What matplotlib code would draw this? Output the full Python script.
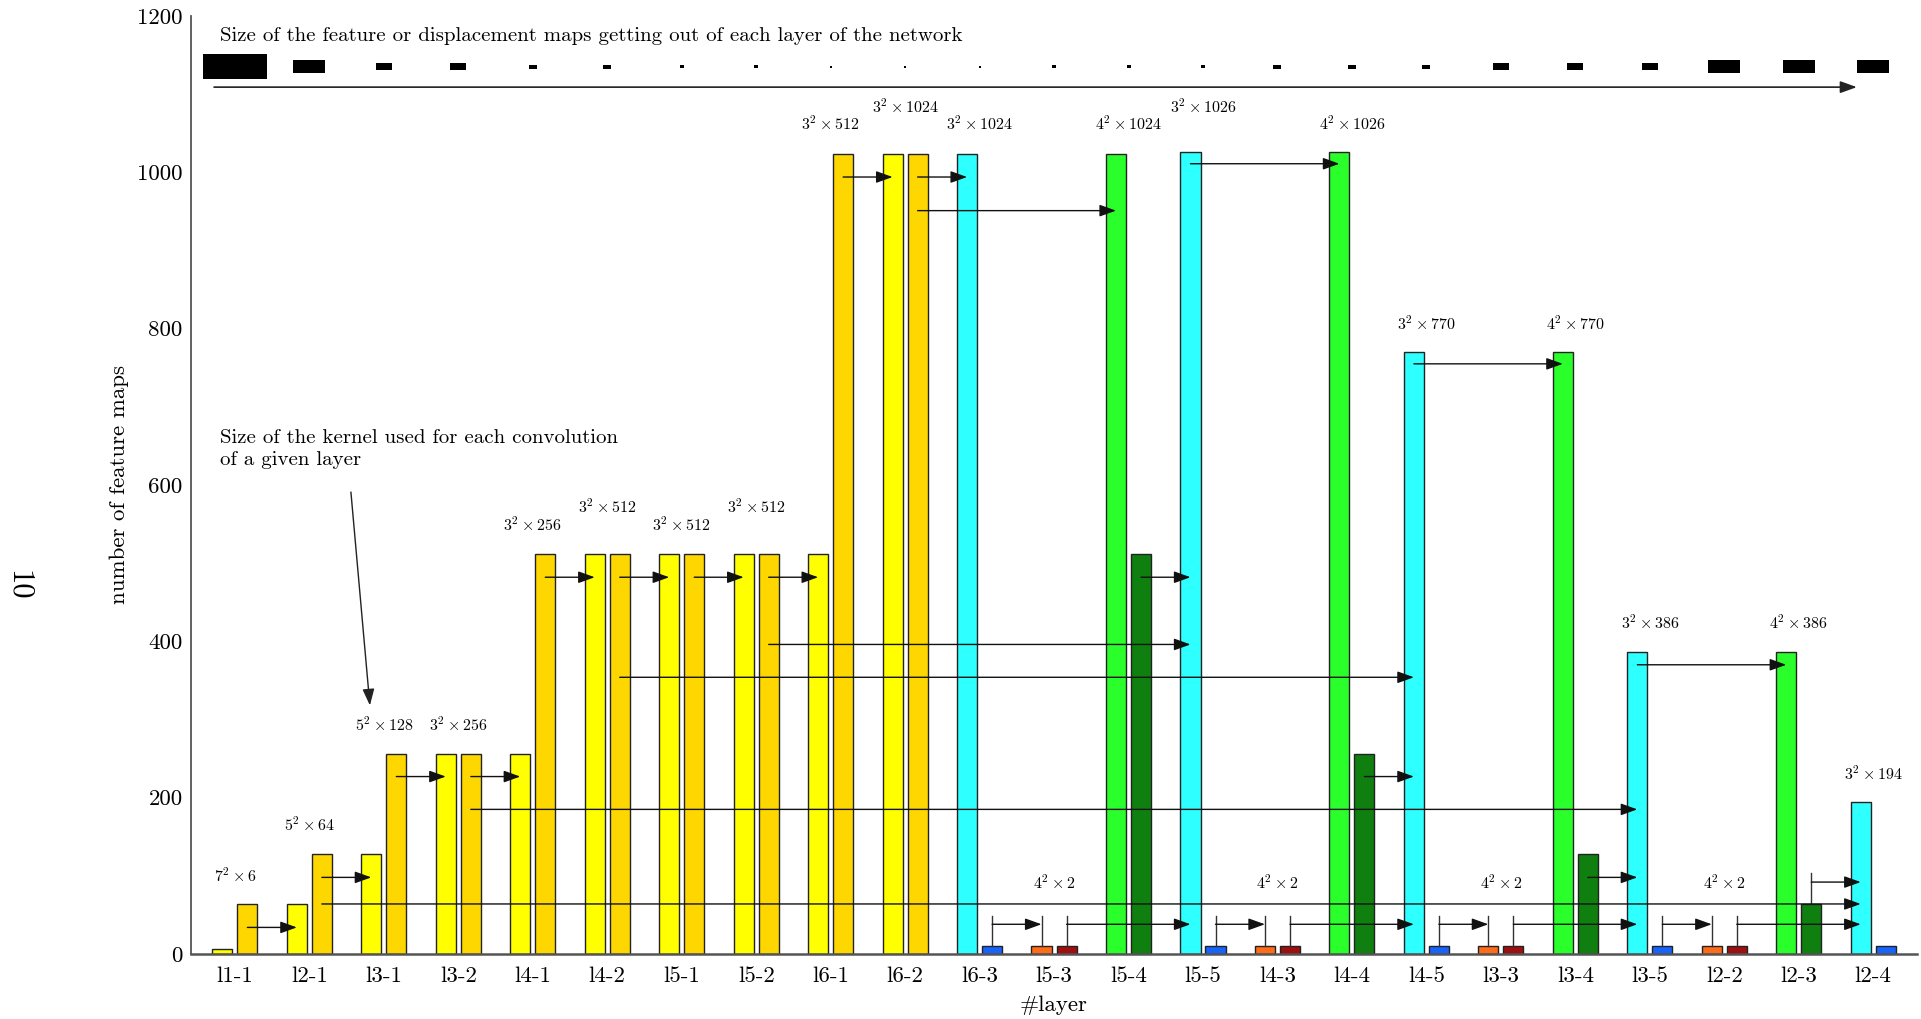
import matplotlib
matplotlib.use('Agg')
import matplotlib.pyplot as plt
import numpy as np

plt.rcParams['font.family'] = 'cmr10'
plt.rcParams['mathtext.fontset'] = 'cm'
plt.rcParams['axes.unicode_minus'] = False

# ---------------- data ----------------
layers = ['l1-1', 'l2-1', 'l3-1', 'l3-2', 'l4-1', 'l4-2', 'l5-1', 'l5-2', 'l6-1', 'l6-2',
          'l6-3', 'l5-3', 'l5-4', 'l5-5', 'l4-3', 'l4-4', 'l4-5', 'l3-3', 'l3-4', 'l3-5',
          'l2-2', 'l2-3', 'l2-4']
left_vals = [6, 64, 128, 256, 256, 512, 512, 512, 512, 1024,
             1024, 10, 1024, 1026, 10, 1026, 770, 10, 770, 386, 10, 386, 194]
right_vals = [64, 128, 256, 256, 512, 512, 512, 512, 1024, 1024,
              10, 10, 512, 10, 10, 256, 10, 10, 128, 10, 10, 64, 10]

# spatial size of the maps leaving each layer (drawn as black rectangles)
map_w = [64, 32, 16, 16, 8, 8, 4, 4, 2, 2, 2, 4, 4, 4, 8, 8, 8, 16, 16, 16, 32, 32, 32]
map_h = [25, 13, 7, 7, 4, 4, 3, 3, 2, 2, 2, 3, 3, 3, 4, 4, 4, 7, 7, 7, 13, 13, 13]

kernel_labels = [r'$7^2\times 6$', r'$5^2\times 64$', r'$5^2\times 128$', r'$3^2\times 256$',
                 r'$3^2\times 256$', r'$3^2\times 512$', r'$3^2\times 512$', r'$3^2\times 512$',
                 r'$3^2\times 512$', r'$3^2\times 1024$', r'$3^2\times 1024$', r'$4^2\times 2$',
                 r'$4^2\times 1024$', r'$3^2\times 1026$', r'$4^2\times 2$', r'$4^2\times 1026$',
                 r'$3^2\times 770$', r'$4^2\times 2$', r'$4^2\times 770$', r'$3^2\times 386$',
                 r'$4^2\times 2$', r'$4^2\times 386$', r'$3^2\times 194$']
label_lift = [37, 38, 38, 38, 38, 60, 38, 60, 38, 60, 38, 82, 38, 58, 82, 36, 36, 82, 36, 38,
              82, 38, 37]

# connections: (from layer, side, to layer, side, level)
connections = [
    (0, 'R', 1, 'L', 34), (1, 'R', 2, 'L', 98), (2, 'R', 3, 'L', 227), (3, 'R', 4, 'L', 227),
    (4, 'R', 5, 'L', 482), (5, 'R', 6, 'L', 482), (6, 'R', 7, 'L', 482), (7, 'R', 8, 'L', 482),
    (8, 'R', 9, 'L', 994), (9, 'R', 10, 'L', 994),
    (1, 'R', 22, 'L', 64), (3, 'R', 19, 'L', 185), (5, 'R', 16, 'L', 354),
    (7, 'R', 13, 'L', 396), (9, 'R', 12, 'L', 951),
    (13, 'L', 15, 'L', 1011), (16, 'L', 18, 'L', 755), (19, 'L', 21, 'L', 370),
    (12, 'R', 13, 'L', 482), (15, 'R', 16, 'L', 227), (18, 'R', 19, 'L', 98),
    (21, 'R', 22, 'L', 92),
    (10, 'R', 11, 'L', 38), (11, 'R', 13, 'L', 38), (13, 'R', 14, 'L', 38),
    (14, 'R', 16, 'L', 38), (16, 'R', 17, 'L', 38), (17, 'R', 19, 'L', 38),
    (19, 'R', 20, 'L', 38), (20, 'R', 22, 'L', 38),
]
# vertical connectors: (layer, side, top level)
risers = [(10, 'R', 49), (11, 'L', 49), (11, 'R', 49), (13, 'R', 49), (14, 'L', 49),
          (14, 'R', 49), (16, 'R', 49), (17, 'L', 49), (17, 'R', 49), (19, 'R', 49),
          (20, 'L', 49), (20, 'R', 49), (21, 'R', 103)]

# ---------------- style ----------------
enc_left, enc_right = '#FFFF00', '#FFD700'
cyan, blue, orange, dred, green, dgreen = '#2EFFFF', '#1763FF', '#FF6B17', '#A00F0F', '#2BFF2B', '#0F800F'
left_colors = [enc_left] * 10 + [cyan, orange, green] * 4 + [cyan]
right_colors = [enc_right] * 10 + [blue, dred, dgreen] * 4 + [blue]

OFF = 0.168
BW = 0.27
ARROW = '-|>,head_length=0.5,head_width=0.18'

fig = plt.figure(figsize=(19.21, 10.19), dpi=100)
ax = fig.add_axes([0.0994, 0.0638, 0.8986, 0.9205])
x = np.arange(len(layers))

ax.bar(x - OFF, left_vals, BW, color=left_colors, edgecolor='#222222', linewidth=1.0, zorder=2)
ax.bar(x + OFF, right_vals, BW, color=right_colors, edgecolor='#222222', linewidth=1.0, zorder=2)

ax.set_xlim(-0.59, 22.59)
ax.set_ylim(0, 1200)
ax.set_xticks(x)
ax.set_xticklabels(layers)
ax.set_yticks(np.arange(0, 1201, 200))
ax.tick_params(axis='both', length=0, labelsize=16.5)
ax.tick_params(axis='x', pad=9)
ax.tick_params(axis='y', pad=6)
for s in ['top', 'right']:
    ax.spines[s].set_visible(False)
for s in ['left', 'bottom']:
    ax.spines[s].set_color('#555555')
    ax.spines[s].set_linewidth(1.3)
ax.spines['bottom'].set_linewidth(1.8)
ax.spines['bottom'].set_zorder(3)

ax.set_xlabel('#layer', fontsize=16.5, labelpad=7)
ax.set_ylabel('number of feature maps', fontsize=16.5, labelpad=6)

fig.text(0.0098, 0.426, '10', rotation=270, fontsize=22, ha='center', va='center')

# feature-map size rectangles
fig.canvas.draw()
p0 = ax.transData.transform((0, 0))
p1 = ax.transData.transform((1, 1))
ux = 1.0 / (p1[0] - p0[0])   # data units per pixel (x)
uy = 1.0 / (p1[1] - p0[1])   # data units per pixel (y)
mw = np.array(map_w) * ux
mh = np.array(map_h) * uy
ax.bar(x, mh, mw, bottom=1135 - mh / 2, color='black', edgecolor='none', zorder=2)

ax.text(-0.195, 1175, 'Size of the feature or displacement maps getting out of each layer of the network',
        fontsize=15, ha='left', va='center')
ax.annotate('', xy=(21.78, 1109), xytext=(-0.28, 1109),
            arrowprops=dict(arrowstyle=ARROW, mutation_scale=20,
                            lw=1.2, color='#222222', shrinkA=0, shrinkB=0), zorder=4)

# kernel labels
for i, (lab, lift) in enumerate(zip(kernel_labels, label_lift)):
    top = max(left_vals[i], right_vals[i])
    ax.text(i, top + lift, lab, fontsize=11.5, ha='center', va='center')

ax.text(-0.195, 646, 'Size of the kernel used for each convolution\nof a given layer',
        fontsize=15, ha='left', va='center', linespacing=1.25)
ax.annotate('', xy=(1.813, 318), xytext=(1.558, 591),
            arrowprops=dict(arrowstyle=ARROW, mutation_scale=20,
                            lw=1.0, color='#222222', shrinkA=0, shrinkB=0), zorder=4)


def xpos(i, side):
    return i - OFF if side == 'L' else i + OFF


vals = {'L': left_vals, 'R': right_vals}
for (i, s, lvl_top) in risers:
    ax.plot([xpos(i, s)] * 2, [vals[s][i], lvl_top], color='#333333', lw=1.0, zorder=3)

for (i, si, j, sj, lvl) in connections:
    ax.annotate('', xy=(xpos(j, sj), lvl), xytext=(xpos(i, si), lvl),
                arrowprops=dict(arrowstyle=ARROW, mutation_scale=20,
                                lw=1.0, color='#111111', shrinkA=0, shrinkB=0), zorder=4)

fig.savefig('out.png', dpi=100)
